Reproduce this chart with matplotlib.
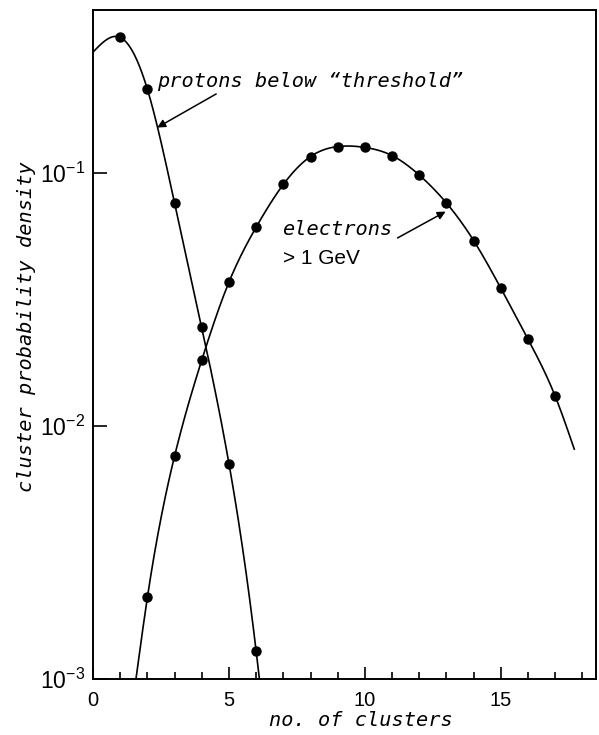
import numpy as np
import matplotlib
matplotlib.use("Agg")
import matplotlib.pyplot as plt

# Measured cluster-count distributions
proton_n = [1, 2, 3, 4, 5, 6]
proton_p = [0.343, 0.214, 0.076, 0.0245, 0.0071, 0.00129]

electron_n = [2, 3, 4, 5, 6, 7, 8, 9, 10, 11, 12, 13, 14, 15, 16, 17]
electron_p = [0.0021, 0.0076, 0.0182, 0.037, 0.061, 0.090, 0.116, 0.127,
              0.126, 0.117, 0.098, 0.076, 0.054, 0.035, 0.022, 0.0131]

# where the drawn curves begin and end (cluster count, density)
proton_curve_ends = [(0.0, 0.30), (6.12, 0.00100)]
electron_curve_ends = [(1.58, 0.00100), (17.7, 0.0081)]

x_ticks = [0, 5, 10, 15]
y_ticks = [1e-3, 1e-2, 1e-1]
y_tick_labels = [r"$10^{-3}$", r"$10^{-2}$", r"$10^{-1}$"]

plt.rcParams["mathtext.fontset"] = "custom"
plt.rcParams["mathtext.rm"] = "Liberation Sans"
plt.rcParams["mathtext.it"] = "Liberation Sans:italic"

W, H = 599, 735
fig = plt.figure(figsize=(W / 100, H / 100), dpi=100)
left, right, top, bottom = 93, 596, 10, 679
ax = fig.add_axes([left / W, (H - bottom) / H, (right - left) / W, (bottom - top) / H])

ax.set_yscale("log")
ax.set_xlim(0, 18.5)
ax.set_ylim(1e-3, 0.44)


def natural_spline(xs, ys, xx):
    xs = np.asarray(xs, float)
    ys = np.asarray(ys, float)
    n = len(xs)
    h = np.diff(xs)
    A = np.zeros((n, n))
    b = np.zeros(n)
    A[0, 0] = A[-1, -1] = 1.0
    for i in range(1, n - 1):
        A[i, i - 1] = h[i - 1]
        A[i, i] = 2 * (h[i - 1] + h[i])
        A[i, i + 1] = h[i]
        b[i] = 6 * ((ys[i + 1] - ys[i]) / h[i] - (ys[i] - ys[i - 1]) / h[i - 1])
    M = np.linalg.solve(A, b)
    k = np.clip(np.searchsorted(xs, xx) - 1, 0, n - 2)
    x0, x1 = xs[k], xs[k + 1]
    hk = x1 - x0
    t0, t1 = x1 - xx, xx - x0
    return (M[k] * t0 ** 3 / (6 * hk) + M[k + 1] * t1 ** 3 / (6 * hk)
            + (ys[k] / hk - M[k] * hk / 6) * t0 + (ys[k + 1] / hk - M[k + 1] * hk / 6) * t1)


def curve(ns, ps, ends):
    xs = [ends[0][0]] + list(ns) + [ends[1][0]]
    ys = [ends[0][1]] + list(ps) + [ends[1][1]]
    xx = np.linspace(xs[0], xs[-1], 500)
    return xx, 10 ** natural_spline(xs, np.log10(ys), xx)


lw = 1.2
xx, yy = curve(proton_n, proton_p, proton_curve_ends)
ax.plot(xx, yy, color="black", lw=lw)
xx, yy = curve(electron_n, electron_p, electron_curve_ends)
ax.plot(xx, yy, color="black", lw=lw)

ms = 6.5
ax.plot(proton_n, proton_p, "o", color="black", ms=ms)
ax.plot(electron_n, electron_p, "o", color="black", ms=ms)

for s in ax.spines.values():
    s.set_linewidth(1.4)

ax.set_xticks(x_ticks)
ax.set_xticklabels([str(t) for t in x_ticks], fontfamily="Liberation Sans", fontsize=14.5)
ax.set_xticks(range(0, 19), minor=True)
ax.tick_params(axis="x", which="major", direction="in", length=9, width=1.2, pad=9)
ax.tick_params(axis="x", which="minor", direction="in", length=5, width=1.2)

ax.set_yticks(y_ticks)
ax.set_yticklabels(y_tick_labels, fontsize=16.5)
ax.yaxis.set_minor_locator(matplotlib.ticker.NullLocator())
ax.tick_params(axis="y", which="major", direction="in", length=10, width=1.2, pad=6)

lettering = dict(family="DejaVu Sans Mono", style="oblique", fontsize=14.6)

ax.set_xlabel("no. of clusters", **lettering)
ax.xaxis.set_label_coords((361 - left) / (right - left), -41 / (bottom - top))
ax.xaxis.label.set_va("center")
ax.set_ylabel("cluster probability density", **lettering)
ax.yaxis.set_label_coords((27 - left) / (right - left), (bottom - 327) / (bottom - top))
ax.yaxis.label.set_va("center")

arrow = dict(arrowstyle="-|>", color="black", lw=1.1, mutation_scale=12, shrinkA=0, shrinkB=0)

ax.text(2.35, 0.218, "protons below \u201cthreshold\u201d", ha="left", va="baseline", **lettering)
ax.annotate("", xy=(2.36, 0.151), xytext=(4.53, 0.205), arrowprops=arrow)

ax.text(6.95, 0.0596, "electrons", ha="left", va="center", **lettering)
ax.text(6.98, 0.0458, "> 1 GeV", ha="left", va="center", family="Liberation Sans", fontsize=15)
ax.annotate("", xy=(12.97, 0.0703), xytext=(11.2, 0.0553), arrowprops=arrow)

fig.savefig("out.png", dpi=100)
